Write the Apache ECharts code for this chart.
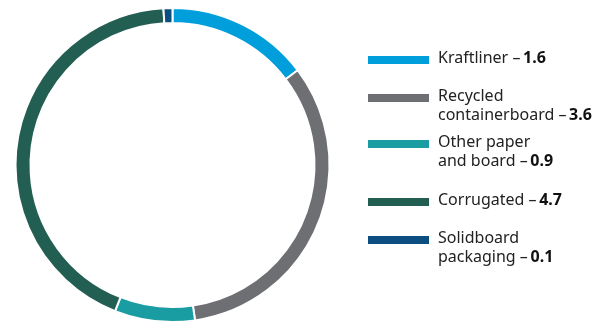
<!DOCTYPE html>
<html><head><meta charset="utf-8">
<script src="https://cdn.jsdelivr.net/npm/echarts@6/dist/echarts.min.js"></script>
<style>html,body{margin:0;padding:0;background:#fff;}#c{width:605px;height:322px;}</style>
</head><body><div id="c"></div>
<script>
var categories = ['Kraftliner', 'Recycled containerboard', 'Other paper and board', 'Corrugated', 'Solidboard packaging'];
var labelLines = [['Kraftliner'], ['Recycled', 'containerboard'], ['Other paper', 'and board'], ['Corrugated'], ['Solidboard', 'packaging']];
var values = [1.6, 3.6, 0.9, 4.7, 0.1];
var valueLabels = ['1.6', '3.6', '0.9', '4.7', '0.1'];
var colors = ['#009FDB', '#6E6F73', '#1A9CA3', '#225E52', '#0C4E80'];

var legendTop = [60, 98, 144, 202, 240];
var FONT = 'Noto Sans';
var graphics = [];
for (var i = 0; i < categories.length; i++) {
  graphics.push({type: 'rect', left: 368, top: legendTop[i] - 4, shape: {width: 61, height: 8}, style: {fill: colors[i]}});
  var lines = labelLines[i];
  var txt = '';
  for (var j = 0; j < lines.length; j++) {
    if (j === lines.length - 1) txt += '{n|' + lines[j] + ' –\u2009}{b|' + valueLabels[i] + '}';
    else txt += '{n|' + lines[j] + '}\n';
  }
  graphics.push({type: 'text', left: 438, top: legendTop[i] - 10, style: {
    text: txt,
    rich: {
      n: {fontFamily: FONT, fontSize: 16, fill: '#222', lineHeight: 19},
      b: {fontFamily: FONT, fontSize: 16, fontWeight: 'bold', fill: '#111', lineHeight: 19}
    }
  }});
}

var chart = echarts.init(document.getElementById('c'), null, {renderer: 'canvas'});
chart.setOption({
  animation: false,
  series: [{
    type: 'pie',
    center: [172.5, 165],
    radius: [142, 157],
    startAngle: 90,
    clockwise: true,
    label: {show: false},
    labelLine: {show: false},
    emphasis: {disabled: true},
    itemStyle: {borderColor: '#fff', borderWidth: 2},
    data: categories.map(function (c, i) { return {name: c, value: values[i], itemStyle: {color: colors[i]}}; })
  }],
  graphic: graphics
});
</script></body></html>
